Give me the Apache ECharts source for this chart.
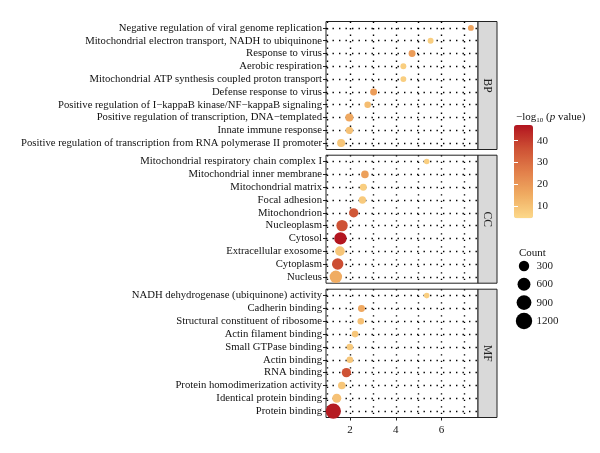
<!DOCTYPE html>
<html><head><meta charset="utf-8">
<script src="https://cdn.jsdelivr.net/npm/echarts@6/dist/echarts.min.js"></script>
<style>html,body{margin:0;padding:0;background:#fff}#c{width:600px;height:453px}</style>
</head><body><div id="c"></div>
<script>
// ---------------- data ----------------
const panelNames = ['BP', 'CC', 'MF'];

const bpTerms = ['Negative regulation of viral genome replication','Mitochondrial electron transport, NADH to ubiquinone','Response to virus','Aerobic respiration','Mitochondrial ATP synthesis coupled proton transport','Defense response to virus','Positive regulation of I\u2212kappaB kinase/NF\u2212kappaB signaling','Positive regulation of transcription, DNA\u2212templated','Innate immune response','Positive regulation of transcription from RNA polymerase II promoter'];
const bpX     = [7.28, 5.52, 4.71, 4.33, 4.33, 3.03, 2.77, 1.97, 1.97, 1.61];
const bpCount = [33, 33, 64, 33, 33, 64, 50, 115, 77, 115];
const bpLogP  = [17, 7, 19, 7, 7, 19, 11, 16, 10, 9];

const ccTerms = ['Mitochondrial respiratory chain complex I','Mitochondrial inner membrane','Mitochondrial matrix','Focal adhesion','Mitochondrion','Nucleoplasm','Cytosol','Extracellular exosome','Cytoplasm','Nucleus'];
const ccX     = [5.35, 2.65, 2.58, 2.54, 2.16, 1.65, 1.58, 1.56, 1.46, 1.38];
const ccCount = [26, 92, 64, 77, 206, 408, 536, 232, 408, 536];
const ccLogP  = [7, 18, 7, 8, 35, 36, 47, 9, 37, 15];

const mfTerms = ['NADH dehydrogenase (ubiquinone) activity','Cadherin binding','Structural constituent of ribosome','Actin filament binding','Small GTPase binding','Actin binding','RNA binding','Protein homodimerization activity','Identical protein binding','Protein binding'];
const mfX     = [5.35, 2.50, 2.47, 2.22, 1.99, 1.99, 1.84, 1.64, 1.42, 1.27];
const mfCount = [26, 64, 50, 50, 50, 50, 206, 92, 182, 975];
const mfLogP  = [7, 16, 10, 9, 8, 9, 36, 9, 10, 46];

const xTickValues = [2, 4, 6];
const xGridValues = [1, 2, 3, 4, 5, 6, 7];
const colorTicks = [10, 20, 30, 40];
const colorRange = [4.4, 47.2];
const sizeLegendValues = [300, 600, 900, 1200];

// ---------------- styling ----------------
const FONT = '"Liberation Serif", "Times New Roman", serif';
const sizeFn = c => 4.7 + 0.34 * Math.sqrt(Math.max(c - 20, 0));
const panels = [
  {terms: bpTerms, x: bpX, count: bpCount, logp: bpLogP, top: 21.5, height: 128},
  {terms: ccTerms, x: ccX, count: ccCount, logp: ccLogP, top: 155.2, height: 128},
  {terms: mfTerms, x: mfX, count: mfCount, logp: mfLogP, top: 289.2, height: 128.3}
];
const gridLeft = 326, gridWidth = 152, stripW = 19;
const dotted = {color: '#000', width: 1.4, type: [1.4, 5.1]};

const grid = [], xAxis = [], yAxis = [], series = [], graphic = [];
panels.forEach((p, i) => {
  const last = i === panels.length - 1;
  grid.push({left: gridLeft, top: p.top, width: gridWidth, height: p.height,
    show: true, borderColor: '#222', borderWidth: 1, backgroundColor: '#fff'});
  xAxis.push({type: 'value', gridIndex: i, min: 0.95, max: 7.59,
    splitLine: {show: false}, axisLine: {show: false},
    axisTick: {show: last, length: 3, lineStyle: {color: '#222'}, customValues: xTickValues},
    axisLabel: {show: last, customValues: xTickValues, fontFamily: FONT, fontSize: 11, color: '#111', margin: 7}});
  yAxis.push({type: 'category', gridIndex: i, data: p.terms, inverse: true,
    axisLine: {show: false}, splitLine: {show: false},
    axisTick: {show: true, alignWithLabel: true, interval: 0, length: 3, lineStyle: {color: '#222'}},
    axisLabel: {interval: 0, fontFamily: FONT, fontSize: 10.7, color: '#111', margin: 4}});
  series.push({type: 'scatter', xAxisIndex: i, yAxisIndex: i, z: 3,
    data: p.terms.map((t, k) => [p.x[k], t, p.count[k], p.logp[k]]),
    symbolSize: v => sizeFn(v[2]),
    itemStyle: {opacity: 1},
    emphasis: {disabled: true}, animation: false,
    markLine: {silent: true, z: 1, symbol: ['none', 'none'], label: {show: false}, animation: false,
      lineStyle: dotted, emphasis: {disabled: true},
      data: p.terms.map(t => ({yAxis: t})).concat(xGridValues.map(v => ({xAxis: v})))}});
  graphic.push({type: 'rect', shape: {x: gridLeft + gridWidth, y: p.top, width: stripW, height: p.height},
    style: {fill: '#D9D9D9', stroke: '#222', lineWidth: 1}, z: 10});
  graphic.push({type: 'text', x: gridLeft + gridWidth + stripW / 2, y: p.top + p.height / 2, rotation: -Math.PI / 2,
    style: {text: panelNames[i], font: '11.5px ' + FONT, fill: '#222', align: 'center', verticalAlign: 'middle'}, z: 11});
});

// colour bar axis (ticks & labels)
const cbLeft = 514, cbTop = 125, cbW = 19, cbH = 93.3;
grid.push({left: cbLeft, top: cbTop, width: cbW, height: cbH, show: false});
xAxis.push({type: 'value', gridIndex: 3, show: false, min: 0, max: 1});
yAxis.push({type: 'value', gridIndex: 3, position: 'right', min: colorRange[0], max: colorRange[1], z: 20,
  axisLine: {show: false}, splitLine: {show: false},
  axisTick: {show: true, inside: true, length: 4, lineStyle: {color: '#fff', width: 1}, customValues: colorTicks},
  axisLabel: {customValues: colorTicks, fontFamily: FONT, fontSize: 11, color: '#222', margin: 4}});
yAxis.push({type: 'value', gridIndex: 3, position: 'left', min: colorRange[0], max: colorRange[1], z: 20,
  axisLine: {show: false}, splitLine: {show: false},
  axisTick: {show: true, inside: true, length: 4, lineStyle: {color: '#fff', width: 1}, customValues: colorTicks},
  axisLabel: {show: false}});

// size legend
grid.push({left: 519, top: 256.8, width: 10, height: 73.3, show: false});
xAxis.push({type: 'value', gridIndex: 4, show: false, min: -1, max: 1});
yAxis.push({type: 'category', gridIndex: 4, position: 'right', inverse: true,
  data: sizeLegendValues.map(String),
  axisLine: {show: false}, axisTick: {show: false}, splitLine: {show: false},
  axisLabel: {interval: 0, fontFamily: FONT, fontSize: 11, color: '#222', margin: 7.5}});
series.push({type: 'scatter', xAxisIndex: 4, yAxisIndex: 5,
  data: sizeLegendValues.map(v => [0, String(v), v]),
  symbolSize: v => sizeFn(v[2]), itemStyle: {color: '#000', opacity: 1}, animation: false, emphasis: {disabled: true}});

const option = {
  backgroundColor: '#fff',
  animation: false,
  title: [
    {left: 511, top: 106, text: '{a|\u2212log}{s|10}{a| (}{i|p}{a| value)}',
      textStyle: {fontWeight: 'normal', rich: {
        a: {fontFamily: FONT, fontSize: 11, fontWeight: 'normal', color: '#111'},
        s: {fontFamily: FONT, fontSize: 7, fontWeight: 'normal', color: '#111', verticalAlign: 'bottom', padding: [6, 0, 0, 0]},
        i: {fontFamily: FONT, fontSize: 11, fontWeight: 'normal', color: '#111', fontStyle: 'italic'}}}},
    {left: 514, top: 243, text: 'Count', textStyle: {fontFamily: FONT, fontSize: 11, fontWeight: 'normal', color: '#111'}}
  ],
  grid, xAxis, yAxis, series, graphic,
  visualMap: {type: 'continuous', seriesIndex: [0, 1, 2], dimension: 3,
    min: colorRange[0], max: colorRange[1], calculable: false, showLabel: false,
    left: cbLeft, top: cbTop, itemWidth: cbW, itemHeight: cbH, padding: 0,
    inRange: {color: ['#FCD98A', '#F0AC62', '#E27F4A', '#CD5034', '#B2141F']}}
};
const chart = echarts.init(document.getElementById('c'), null, {renderer: 'canvas'});
chart.setOption(option);
</script></body></html>
